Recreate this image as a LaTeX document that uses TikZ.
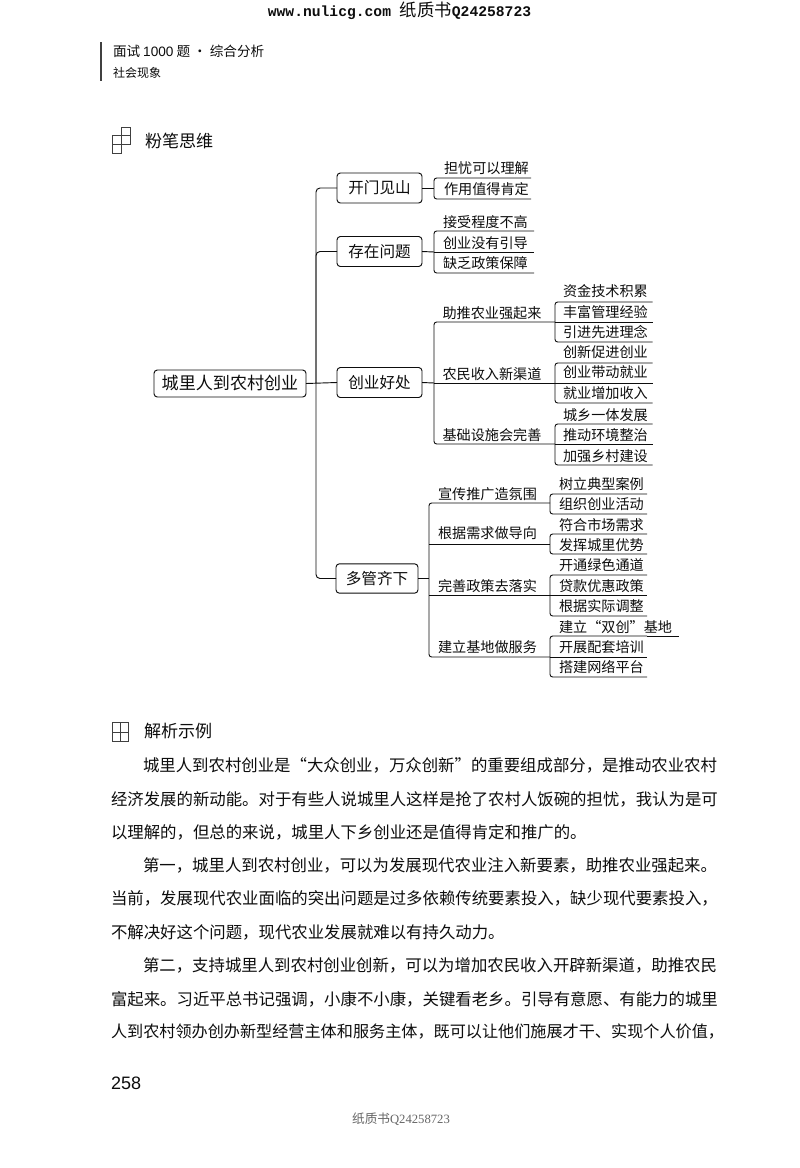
\documentclass[tikz,border=0pt]{standalone}
\usepackage{fontspec}
\setmainfont{Noto Sans CJK SC}
\newfontfamily\monofam{Liberation Mono}
\newfontfamily\sansfam{Liberation Sans}
\newfontfamily\seriffam{Liberation Serif}
\newcommand{\fs}[1]{\fontsize{#1pt}{#1pt}\selectfont}
\definecolor{ink}{gray}{0.05}
\definecolor{rulegray}{gray}{0.25}
\tikzset{
  every node/.style={inner sep=0pt,outer sep=0pt,text=ink},
  rootbox/.style={draw=ink,line width=0.7pt,rounded corners=2.5pt,minimum width=114pt,minimum height=20.25pt,font=\fs{12.8}},
  lonebox/.style={draw=ink,line width=0.7pt,rounded corners=2.5pt,minimum width=63.75pt,minimum height=22.5pt,font=\fs{11.7}},
  ltwobox/.style={draw=ink,line width=0.7pt,rounded corners=2.5pt,minimum width=61.5pt,minimum height=22pt,font=\fs{11.7}},
  leaf/.style={anchor=west,font=\fs{10.6}},
  bodyline/.style={anchor=west,font=\fs{12.3}},
  headtitle/.style={anchor=west,font=\fs{12.8}},
  link/.style={draw=ink,line width=0.7pt},
  bracket/.style={draw=ink,line width=0.7pt,rounded corners=2pt},
  iconline/.style={draw=rulegray,line width=0.6pt}
}
% three-line bracket
\newcommand{\triple}[6]{%
  \coordinate (#1-al) at (#2,#4); \coordinate (#1-a) at (#3,#4);
  \coordinate (#1-bl) at (#2,#5); \coordinate (#1-b) at (#3,#5);
  \coordinate (#1-cl) at (#2,#6); \coordinate (#1-c) at (#3,#6);
  \draw[bracket] (#1-a) -| (#1-cl) -- (#1-c);
  \draw[link] (#1-bl) -- (#1-b);
}
% two-line bracket
\newcommand{\couple}[5]{%
  \coordinate (#1-al) at (#2,#4); \coordinate (#1-a) at (#3,#4);
  \coordinate (#1-cl) at (#2,#5); \coordinate (#1-c) at (#3,#5);
  \draw[bracket] (#1-a) -| (#1-cl) -- (#1-c);
}
\begin{document}
\begin{tikzpicture}[x=0.75pt,y=-0.75pt]
\fill[white] (0,0) rectangle (800,1168);
\useasboundingbox (0,0) rectangle (800,1168);

% page furniture
\node (wm) at (399.5,11) {\fs{11}{\monofam\bfseries www.nulicg.com }{\fs{13}纸质书}{\monofam\bfseries Q24258723}};
\coordinate (bartop) at (101,42);
\coordinate (barbot) at (101,81);
\draw[draw=rulegray,line width=0.9pt] (bartop) -- (barbot);
\node[anchor=west,font=\fs{10.2}] (book) at (113,51) {面试 {\sansfam 1000} 题 · 综合分析};
\node[anchor=west,font=\fs{9}] (part) at (113,73) {社会现象};

% section 1 heading
\draw[iconline] (121,127) rectangle (130,135.5);
\draw[iconline] (112.5,135.5) rectangle (121,144.5);
\draw[iconline] (121,135.5) rectangle (130,144.5);
\draw[iconline] (112.5,144.5) rectangle (121,153);
\node[headtitle] (h1) at (145,141) {粉笔思维};

% mind map nodes
\node[rootbox] (root) at (230,383.5) {城里人到农村创业};
\node[lonebox] (kaimen) at (379.5,188) {开门见山};
\node[lonebox] (wenti) at (379.5,251.5) {存在问题};
\node[lonebox] (haochu) at (379.5,382.5) {创业好处};
\node[ltwobox] (duoguan) at (377,578.5) {多管齐下};

% trunk
\coordinate (trunk) at (316,383);
\draw[bracket,rounded corners=3pt] (kaimen.west) -| (trunk) |- (duoguan.west);
\draw[bracket,rounded corners=3pt] (wenti.west) -| (trunk);
\draw[link] (root.east) -- (haochu.west);

% branch 1
\couple{ga}{434}{531}{178}{199}
\coordinate (ga-m) at (434,188);
\draw[link] (kaimen.east) -- (ga-m);
\node[leaf] (a1) at (444,168) {担忧可以理解};
\node[leaf] (a2) at (444,189) {作用值得肯定};

% branch 2
\triple{gb}{434}{534}{231}{252}{273}
\draw[link] (wenti.east) -- (gb-bl);
\node[leaf] (b1) at (443,222) {接受程度不高};
\node[leaf] (b2) at (443,243) {创业没有引导};
\node[leaf] (b3) at (443,263) {缺乏政策保障};

% branch 3
\triple{gc}{434}{555}{322}{383}{444}
\draw[link] (haochu.east) -- (gc-bl);
\node[leaf] (c1) at (442.5,313) {助推农业强起来};
\node[leaf] (c2) at (442.5,374) {农民收入新渠道};
\node[leaf] (c3) at (442.5,435) {基础设施会完善};

\triple{gca}{555}{652.5}{302}{322}{342}
\node[leaf] (ca1) at (563,291) {资金技术积累};
\node[leaf] (ca2) at (563,312) {丰富管理经验};
\node[leaf] (ca3) at (563,332) {引进先进理念};

\triple{gcb}{555}{652.5}{363}{383}{403}
\node[leaf] (cb1) at (563,352) {创新促进创业};
\node[leaf] (cb2) at (563,372) {创业带动就业};
\node[leaf] (cb3) at (563,393) {就业增加收入};

\triple{gcc}{555}{652.5}{424}{444}{465}
\node[leaf] (cc1) at (563,415) {城乡一体发展};
\node[leaf] (cc2) at (563,435) {推动环境整治};
\node[leaf] (cc3) at (563,456) {加强乡村建设};

% branch 4
\coordinate (gd-a) at (550,503);
\coordinate (gd-b) at (550,544);
\coordinate (gd-c) at (550,595);
\coordinate (gd-d) at (550,657);
\coordinate (gd-al) at (429,503);
\coordinate (gd-bl) at (429,544);
\coordinate (gd-cl) at (429,595);
\coordinate (gd-dl) at (429,657);
\coordinate (gd-m) at (429,578.5);
\draw[bracket] (gd-a) -| (gd-dl) -- (gd-d);
\draw[link] (gd-bl) -- (gd-b);
\draw[link] (gd-cl) -- (gd-c);
\draw[link] (duoguan.east) -- (gd-m);
\node[leaf] (d1) at (438,494) {宣传推广造氛围};
\node[leaf] (d2) at (438,533) {根据需求做导向};
\node[leaf] (d3) at (438,586) {完善政策去落实};
\node[leaf] (d4) at (438,647) {建立基地做服务};

\couple{gda}{550}{647}{494}{514}
\node[leaf] (da1) at (559,484) {树立典型案例};
\node[leaf] (da2) at (559,504) {组织创业活动};

\couple{gdb}{550}{647}{534}{554}
\node[leaf] (db1) at (559,525) {符合市场需求};
\node[leaf] (db2) at (559,545) {发挥城里优势};

\triple{gdc}{550}{647}{575}{595}{616}
\node[leaf] (dc1) at (559,565) {开通绿色通道};
\node[leaf] (dc2) at (559,586) {贷款优惠政策};
\node[leaf] (dc3) at (559,606) {根据实际调整};

\triple{gdd}{550}{647}{636}{657}{677}
\coordinate (gdd-x) at (679,636);
\draw[link] (gdd-a) -- (gdd-x);
\node[leaf] (dd1) at (559,627) {建立“双创”基地};
\node[leaf] (dd2) at (559,647) {开展配套培训};
\node[leaf] (dd3) at (559,667) {搭建网络平台};

% section 2 heading
\draw[iconline] (112,722) rectangle (128,741);
\draw[iconline] (120,722) -- (120,741);
\draw[iconline] (112,732) -- (128,732);
\node[headtitle] (h2) at (144,731) {解析示例};

% body
\node[bodyline] (l1) at (143,765) {城里人到农村创业是“大众创业，万众创新”的重要组成部分，是推动农业农村};
\node[bodyline] (l2) at (111,799) {经济发展的新动能。对于有些人说城里人这样是抢了农村人饭碗的担忧，我认为是可};
\node[bodyline] (l3) at (111,832) {以理解的，但总的来说，城里人下乡创业还是值得肯定和推广的。};
\node[bodyline] (l4) at (143,865) {第一，城里人到农村创业，可以为发展现代农业注入新要素，助推农业强起来。};
\node[bodyline] (l5) at (111,898) {当前，发展现代农业面临的突出问题是过多依赖传统要素投入，缺少现代要素投入，};
\node[bodyline] (l6) at (111,932) {不解决好这个问题，现代农业发展就难以有持久动力。};
\node[bodyline] (l7) at (143,965) {第二，支持城里人到农村创业创新，可以为增加农民收入开辟新渠道，助推农民};
\node[bodyline] (l8) at (111,999) {富起来。习近平总书记强调，小康不小康，关键看老乡。引导有意愿、有能力的城里};
\node[bodyline,font=\fs{12.1}] (l9) at (111,1032) {人到农村领办创办新型经营主体和服务主体，既可以让他们施展才干、实现个人价值，};

\node[anchor=west] (page) at (111,1083) {\sansfam\fs{13.5}258};
\node[text=black!60] (foot) at (401,1119) {\fs{9.5}纸质书{\seriffam Q24258723}};
\end{tikzpicture}
\end{document}
